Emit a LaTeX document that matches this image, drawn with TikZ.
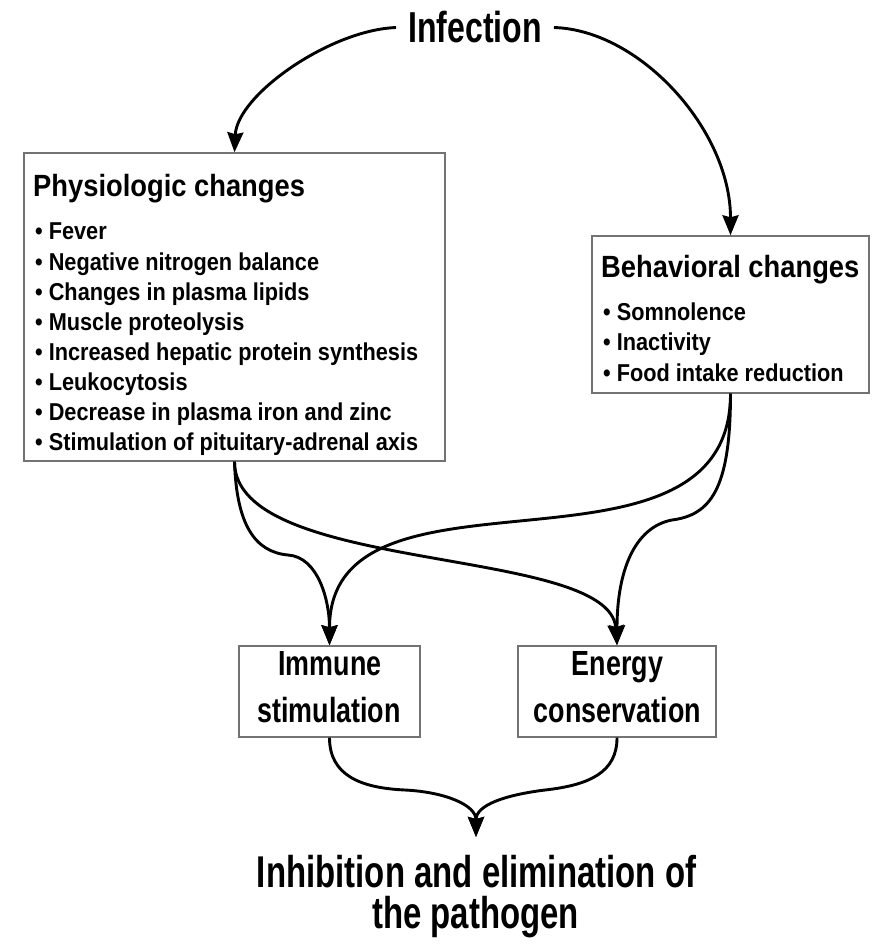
\documentclass[tikz,border=0pt]{standalone}
\usepackage{fontspec}
\setmainfont{Liberation Sans}
\newfontfamily\fA[FakeStretch=0.89]{Liberation Sans}
\newfontfamily\fB[FakeStretch=0.77]{Liberation Sans}
\newfontfamily\fC[FakeStretch=0.74]{Liberation Sans}
\usetikzlibrary{arrows.meta}
\begin{document}
\begin{tikzpicture}[x=1pt,y=-1pt,
  box/.style={draw=black!55, line width=1.4pt, rectangle, inner sep=0pt},
  itemtxt/.style={anchor=base west, inner sep=0pt, font={\fA\bfseries\fontsize{24.4}{28}\selectfont}},
  titletxt/.style={anchor=base west, inner sep=0pt, font={\fA\bfseries\fontsize{30.7}{34}\selectfont}},
  midtxt/.style={anchor=base, inner sep=0pt, font={\fB\bfseries\fontsize{34.9}{40}\selectfont}},
  bigtxt/.style={anchor=base, inner sep=0pt, font={\fC\bfseries\fontsize{44.5}{50}\selectfont}},
  conn/.style={line width=2.9pt, -{Stealth[length=20pt,width=16pt,inset=2pt]}}
]
\useasboundingbox (0,0) rectangle (871,949);
\fill[white] (0,0) rectangle (871,949);

% top
\node[font={\fC\bfseries\fontsize{43.3}{50}\selectfont}, inner xsep=12pt, inner ysep=0pt, anchor=base] (inf) at (475,43) {Infection};

% boxes
\node[box, minimum width=421pt, minimum height=308pt] (phys) at (234.5,307) {};
\node[box, minimum width=277pt, minimum height=157pt] (behav) at (730.5,314.5) {};
\node[box, minimum width=181pt, minimum height=91pt] (imm) at (329.5,691.5) {};
\node[box, minimum width=198pt, minimum height=91pt] (en) at (617,691.5) {};

% physiologic text
\node[titletxt] (pt) at (33,197) {Physiologic changes};
\foreach \t [count=\i] in {Fever, Negative nitrogen balance, Changes in plasma lipids,
  Muscle proteolysis, Increased hepatic protein synthesis, Leukocytosis,
  Decrease in plasma iron and zinc, Stimulation of pituitary-adrenal axis}
  \node[itemtxt] (p\i) at (35,{240+30*(\i-1)}) {• \t};

% behavioral text
\node[titletxt] (bt) at (601,277) {Behavioral changes};
\foreach \t [count=\i] in {Somnolence, Inactivity, Food intake reduction}
  \node[itemtxt] (b\i) at (603,{320+30.5*(\i-1)}) {• \t};

% lower boxes text
\node[midtxt] (im1) at (330,675) {Immune};
\node[midtxt] (im2) at (329,722) {stimulation};
\node[midtxt] (en1) at (617.5,675) {Energy};
\node[midtxt] (en2) at (617.5,722) {conservation};

% bottom text
\node[bigtxt] (goal1) at (476.5,887) {Inhibition and elimination of};
\node[bigtxt] (goal2) at (475.5,928) {the pathogen};
\coordinate (tip) at (476,837);

% connectors
\draw[conn] (inf.west) .. controls (330,30) and (237,95) .. (phys.north);
\draw[conn] (inf.east) .. controls (640,30) and (730.5,130) .. (behav.north);

\draw[conn] (phys.south) .. controls (236.5,525) and (255,552) .. (288,555)
  .. controls (318,557) and (329.5,600) .. (imm.north);
\draw[conn] (phys.south) .. controls (234.5,575) and (610,545) .. (en.north);
\draw[conn] (behav.south) .. controls (730.5,600) and (329.5,446) .. (imm.north);
\draw[conn] (behav.south) .. controls (730.5,490) and (710,515) .. (672,520)
  .. controls (635,527) and (617,570) .. (en.north);

\draw[conn] (imm.south) .. controls (329.5,775) and (360,788) .. (405,790)
  .. controls (445,792) and (476,805) .. (tip);
\draw[conn] (en.south) .. controls (617,772) and (590,785) .. (545,790)
  .. controls (505,795) and (476,805) .. (tip);
\end{tikzpicture}
\end{document}
